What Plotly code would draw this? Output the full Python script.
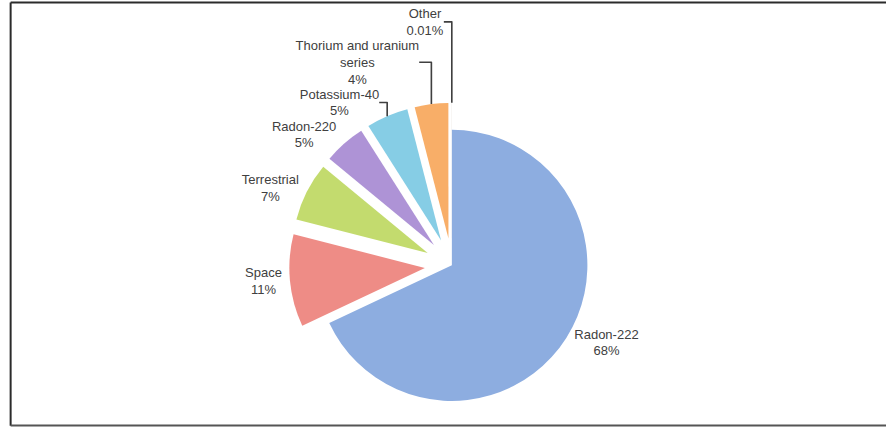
import plotly.graph_objects as go

# Data
labels = ["Radon-222", "Space", "Terrestrial", "Radon-220", "Potassium-40",
          "Thorium and uranium<br>series", "Other"]
values = [68, 11, 7, 5, 5, 4, 0.01]
pct_text = ["68%", "11%", "7%", "5%", "5%", "4%", "0.01%"]
colors = ["#8DADE0", "#EE8C86", "#C3DB6E", "#AE93D6", "#86CDE5", "#F8AE68", "#C2B6A6"]
pulls = [0, 0.2, 0.2, 0.2, 0.2, 0.2, 0.2]

fig = go.Figure()
fig.add_trace(go.Pie(
    labels=labels,
    values=values,
    text=pct_text,
    sort=False,
    direction="clockwise",
    rotation=0,
    pull=pulls,
    automargin=False,
    marker=dict(colors=colors, line=dict(color="white", width=0)),
    texttemplate="%{label}<br>%{text}",
    textposition="outside",
    textfont=dict(family="Liberation Sans", size=13, color="#404040"),
    showlegend=False,
    hoverinfo="label+text",
    domain=dict(x=[0.02, 1.0], y=[0.0, 0.76]),
))

# frame lines (left, top, bottom)
line_style = dict(color="#2b2b2b", width=2)
fig.add_shape(type="line", xref="paper", yref="paper", x0=0.012, x1=0.012, y0=0.005, y1=0.994, line=line_style)
fig.add_shape(type="line", xref="paper", yref="paper", x0=0.012, x1=1.0, y0=0.994, y1=0.994, line=line_style)
fig.add_shape(type="line", xref="paper", yref="paper", x0=0.012, x1=1.0, y0=0.006, y1=0.006, line=dict(color="#555555", width=2))

fig.update_layout(
    width=886,
    height=428,
    margin=dict(l=0, r=0, t=0, b=0, autoexpand=False),
    paper_bgcolor="white",
    plot_bgcolor="white",
)

fig.write_html("out.html")
